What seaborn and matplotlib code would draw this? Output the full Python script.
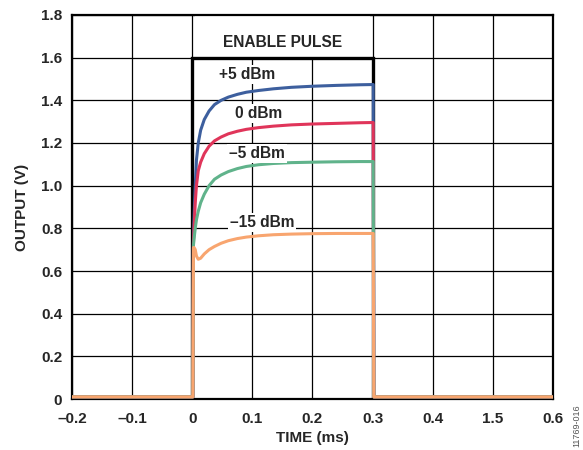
import numpy as np
import pandas as pd
import matplotlib
matplotlib.use("Agg")
import matplotlib.pyplot as plt
import seaborn as sns

# time axis (ms) shared by all the output traces
time_ms = [-0.2, 0.001, 0.002, 0.003, 0.005, 0.007, 0.010, 0.014, 0.020, 0.028, 0.037, 0.048,
           0.060, 0.075, 0.090, 0.110, 0.135, 0.165, 0.200, 0.240, 0.280, 0.301, 0.302, 0.6]

out_p5 = [0.01, 0.01, 0.74, 0.85, 1.00, 1.12, 1.20, 1.26, 1.31, 1.35, 1.38, 1.40,
          1.415, 1.428, 1.438, 1.446, 1.454, 1.461, 1.466, 1.470, 1.473, 1.474, 0.01, 0.01]
out_0 = [0.01, 0.01, 0.73, 0.80, 0.92, 1.00, 1.07, 1.11, 1.15, 1.185, 1.21, 1.228,
         1.243, 1.255, 1.264, 1.272, 1.279, 1.285, 1.289, 1.292, 1.295, 1.296, 0.01, 0.01]
out_m5 = [0.01, 0.01, 0.72, 0.75, 0.80, 0.84, 0.88, 0.92, 0.96, 1.00, 1.03, 1.05,
          1.066, 1.080, 1.090, 1.098, 1.104, 1.108, 1.110, 1.112, 1.113, 1.113, 0.01, 0.01]
out_m15 = [0.01, 0.01, 0.71, 0.71, 0.70, 0.67, 0.655, 0.66, 0.68, 0.70, 0.715, 0.73,
           0.742, 0.752, 0.759, 0.765, 0.770, 0.773, 0.775, 0.776, 0.776, 0.776, 0.01, 0.01]

series_names = ["+5 dBm", "0 dBm", "\u20135 dBm", "\u201315 dBm"]
series_colors = ["#3d5f9e", "#e0355a", "#60b38b", "#f8a56f"]

# enable pulse outline
pulse_t = [0.0, 0.0, 0.3, 0.3]
pulse_v = [0.0, 1.6, 1.6, 0.0]

# where each trace label sits (time, volts)
label_t = [0.0917, 0.111, 0.1077, 0.116]
label_v = [1.519, 1.339, 1.149, 0.827]

x_ticks = [-0.2, -0.1, 0, 0.1, 0.2, 0.3, 0.4, 0.5, 0.6]
x_labels = ["\u20130.2", "\u20130.1", "0", "0.1", "0.2", "0.3", "0.4", "1.5", "0.6"]
y_ticks = [0, 0.2, 0.4, 0.6, 0.8, 1.0, 1.2, 1.4, 1.6, 1.8]
y_labels = ["0", "0.2", "0.4", "0.6", "0.8", "1.0", "1.2", "1.4", "1.6", "1.8"]

sns.set_style("white")
plt.rcParams["font.family"] = ["Liberation Sans", "DejaVu Sans"]
plt.rcParams["font.weight"] = "bold"

df = pd.concat([
    pd.DataFrame({"time": time_ms, "out": vals, "level": name})
    for name, vals in zip(series_names, [out_p5, out_0, out_m5, out_m15])
], ignore_index=True)

fig = plt.figure(figsize=(5.83, 4.5), dpi=100)
ax = fig.add_axes([0.1235, 0.1133, 0.825, 0.8534])

ax.set_axisbelow(True)
ax.grid(True, color="black", linewidth=0.9)

# blank out the grid above the pulse, behind the title text
ax.fill_between([pulse_t[1] + 0.004, pulse_t[2] - 0.004], pulse_v[1], y_ticks[-1],
                color="white", linewidth=0, zorder=1)

ax.plot(pulse_t, pulse_v, color="black", linewidth=2.4, zorder=2, solid_joinstyle="miter")

sns.lineplot(data=df, x="time", y="out", hue="level", palette=series_colors,
             hue_order=series_names, estimator=None, sort=False, linewidth=2.2,
             legend=False, ax=ax, zorder=3)

ax.text(0.1505, 1.671, "ENABLE PULSE", ha="center", va="center", fontsize=11.2,
        fontweight="bold", zorder=4)
for name, t, v in zip(series_names, label_t, label_v):
    ax.text(t, v, name, ha="center", va="center", fontsize=11.2, fontweight="bold", zorder=4,
            bbox=dict(facecolor="white", edgecolor="none", pad=1.5))

ax.set_xlim(-0.2, 0.6)
ax.set_ylim(0, 1.8)
ax.set_xticks(x_ticks)
ax.set_xticklabels(x_labels)
ax.set_yticks(y_ticks)
ax.set_yticklabels(y_labels)
ax.tick_params(axis="both", length=0, labelsize=11)
ax.tick_params(axis="x", pad=9)
ax.tick_params(axis="y", pad=7)
for lab in ax.get_xticklabels() + ax.get_yticklabels():
    lab.set_fontweight("bold")

for sp in ax.spines.values():
    sp.set_visible(True)
    sp.set_color("black")
    sp.set_linewidth(1.6)

ax.set_xlabel("TIME (ms)", fontsize=11, fontweight="bold", labelpad=4)
ax.set_ylabel("OUTPUT (V)", fontsize=11, fontweight="bold", labelpad=9)

fig.text(0.99, 0.055, "11769-016", rotation=90, fontsize=6.5, color="#555555",
         fontweight="normal", ha="center", va="center")

fig.savefig("out.png", dpi=100)
